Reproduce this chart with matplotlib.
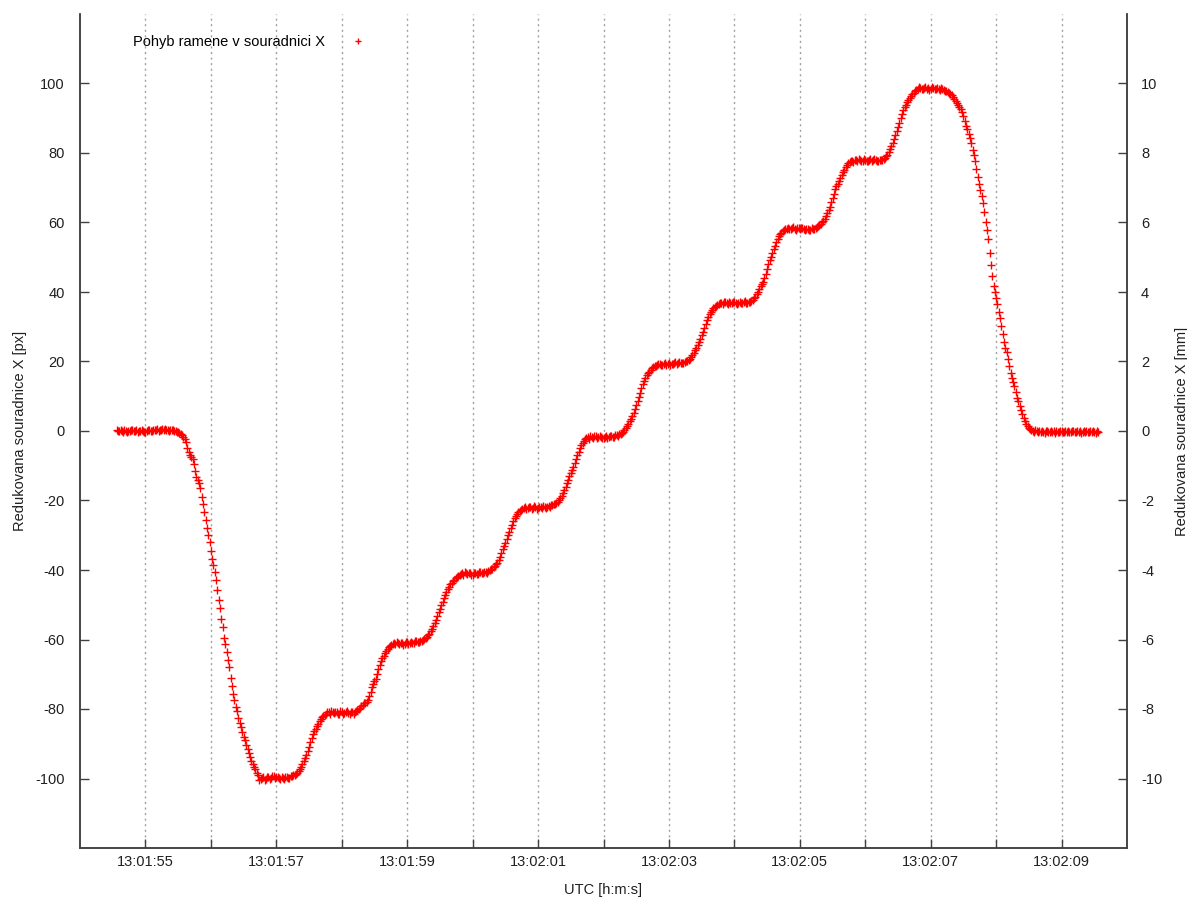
import numpy as np
import matplotlib.pyplot as plt
from matplotlib.ticker import FuncFormatter

plt.rcParams['font.family'] = ['Liberation Sans', 'DejaVu Sans']
plt.rcParams['font.size'] = 10.5
plt.rcParams['axes.unicode_minus'] = False

# first sample of the record (seconds since midnight, UTC) and sampling step [s]
t_first = 13 * 3600 + 1 * 60 + 54.56
dt = 0.02
px_per_mm = 10.0

# reduced X coordinate of the arm [px], one row = 0.5 s
x_px = [
    0.2, 0.0, -0.1, 0.3, 0.1, -0.2, 0.3, 0.1, -0.2, 0.0, 0.0, 0.2, 0.2, -0.1, 0.1, 0.3, -0.3, -0.1, 0.0, 0.2, 0.1, -0.2, -0.2, 0.1, 0.2,
    0.3, 0.0, 0.1, 0.2, 0.4, 0.3, 0.5, 0.1, 0.4, 0.2, 0.6, 0.3, 0.5, 0.2, 0.4, 0.1, 0.3, 0.2, 0.3, 0.0, 0.1, -0.2, -0.3, -0.5, -0.8,
    -1.2, -1.7, -2.4, -3.3, -4.8, -6.1, -7.0, -7.6, -8.2, -9.6, -11.5, -13.3, -14.2, -15.1, -16.5, -18.9, -21.0, -23.2, -25.5, -27.8, -30.0, -32.0, -34.5, -36.8, -38.5,
    -40.6, -43.0, -45.8, -48.5, -51.0, -54.0, -56.4, -59.5, -61.2, -63.5, -65.9, -68.0, -71.0, -73.5, -75.8, -77.5, -79.4, -80.5, -82.6, -84.0, -85.2, -86.5, -88.0, -89.0, -90.4,
    -91.5, -92.6, -93.8, -94.9, -95.8, -96.8, -97.4, -98.4, -99.0, -100.4, -100.2, -99.8, -99.6, -100.3, -100.1, -99.7, -99.5, -100.0, -99.8, -99.4, -99.4, -99.9, -99.7, -99.5, -99.9,
    -100.1, -99.6, -99.8, -100.0, -99.7, -99.5, -99.9, -99.8, -99.4, -99.3, -99.1, -99.0, -98.7, -98.4, -97.9, -97.4, -96.6, -95.8, -95.1, -94.2, -93.3, -92.2, -90.8, -89.5, -88.3,
    -87.3, -86.4, -85.8, -85.0, -84.3, -83.4, -83.0, -82.4, -82.1, -81.7, -81.5, -80.9, -81.0, -81.3, -80.6, -80.9, -81.2, -81.0, -80.8, -81.5, -81.3, -80.7, -80.9, -81.4, -81.1,
    -80.9, -80.7, -81.2, -81.4, -80.8, -81.0, -81.3, -80.8, -80.6, -80.4, -80.1, -79.6, -79.2, -78.8, -78.3, -78.2, -77.9, -77.3, -76.3, -75.0, -73.7, -72.8, -72.0, -71.3, -69.9,
    -68.5, -67.4, -66.3, -65.4, -64.8, -63.9, -63.3, -62.8, -62.2, -61.8, -61.5, -61.2, -61.0, -61.4, -60.8, -61.1, -61.3, -60.9, -61.0, -61.5, -61.2, -60.8, -60.7, -61.2, -61.1,
    -60.6, -60.9, -61.0, -60.5, -60.4, -60.8, -60.6, -60.3, -60.5, -60.1, -59.9, -59.6, -59.3, -58.8, -58.3, -57.6, -57.0, -56.2, -55.3, -54.5, -53.1, -52.0, -51.3, -50.2, -49.1,
    -48.2, -47.1, -46.2, -45.4, -44.8, -44.1, -43.7, -43.3, -42.9, -42.4, -42.0, -41.6, -41.5, -41.1, -41.0, -41.4, -40.7, -41.0, -41.2, -40.8, -40.9, -41.5, -41.3, -41.0, -40.8,
    -41.2, -41.1, -40.7, -40.6, -41.0, -40.9, -40.6, -40.5, -40.8, -40.2, -40.1, -39.8, -39.6, -39.2, -38.8, -38.3, -37.9, -37.2, -36.3, -35.2, -34.0, -33.0, -32.1, -31.0, -30.0,
    -29.0, -28.0, -27.0, -26.0, -25.0, -24.4, -23.8, -23.3, -22.9, -22.6, -22.4, -22.1, -22.0, -22.5, -22.3, -21.9, -21.8, -22.4, -22.2, -21.7, -21.9, -22.5, -22.3, -21.8, -22.0,
    -22.2, -21.7, -21.9, -22.1, -21.8, -21.6, -21.9, -21.4, -21.3, -21.0, -20.9, -20.6, -20.3, -19.9, -19.3, -18.6, -17.9, -17.0, -16.1, -15.0, -14.0, -13.0, -12.1, -11.2, -10.3,
    -9.3, -8.1, -7.0, -6.0, -5.0, -4.1, -3.4, -2.8, -2.4, -2.1, -1.8, -2.2, -1.5, -1.7, -1.9, -1.3, -1.4, -2.0, -1.8, -1.4, -1.6, -2.1, -2.0, -1.6, -1.5,
    -1.9, -1.7, -1.4, -1.3, -1.8, -1.6, -1.2, -1.2, -1.4, -1.0, -0.9, -0.6, -0.2, 0.3, 0.9, 1.5, 2.1, 2.8, 3.5, 4.2, 5.1, 6.2, 7.4, 8.5, 9.7,
    10.8, 12.3, 13.5, 14.5, 15.3, 16.0, 16.6, 17.1, 17.6, 18.0, 18.3, 18.6, 18.8, 18.9, 19.2, 19.4, 18.9, 19.0, 19.4, 19.5, 19.1, 19.3, 19.5, 19.0, 19.2,
    19.4, 19.6, 19.8, 19.3, 19.5, 19.8, 19.7, 19.5, 19.6, 19.9, 20.0, 20.2, 20.4, 20.8, 21.2, 21.8, 22.5, 23.2, 24.0, 24.8, 25.6, 26.6, 27.6, 28.6, 29.7,
    30.9, 32.0, 32.8, 33.6, 34.3, 34.8, 35.3, 35.7, 36.0, 36.4, 36.6, 36.8, 36.9, 36.6, 37.2, 37.0, 36.8, 36.5, 37.1, 36.9, 36.7, 37.2, 37.0, 36.8, 36.6,
    36.9, 37.1, 36.7, 36.8, 37.0, 37.3, 36.8, 36.9, 37.0, 37.2, 37.4, 37.8, 38.2, 38.7, 39.3, 40.0, 40.9, 41.6, 42.3, 43.0, 44.0, 45.2, 46.6, 48.0, 49.1,
    50.0, 51.2, 52.3, 53.3, 54.3, 55.2, 56.0, 56.6, 57.1, 57.5, 57.8, 58.0, 58.2, 58.5, 58.0, 58.1, 58.4, 58.6, 58.1, 57.9, 58.5, 58.3, 58.0, 58.4, 58.3,
    58.0, 57.8, 58.1, 58.2, 57.7, 57.9, 58.3, 58.1, 58.0, 58.4, 58.6, 58.9, 59.2, 59.6, 60.0, 60.4, 61.1, 61.9, 62.7, 63.5, 64.6, 65.8, 67.0, 68.3, 69.5,
    70.4, 71.2, 72.0, 72.8, 73.6, 74.4, 75.2, 75.9, 76.5, 77.0, 77.3, 77.6, 77.8, 77.5, 78.1, 78.0, 77.7, 78.3, 78.0, 77.8, 77.6, 78.2, 78.1, 77.7, 77.8,
    78.0, 78.2, 77.8, 77.9, 78.3, 78.0, 77.7, 77.6, 78.1, 77.9, 78.0, 78.3, 78.6, 79.0, 79.5, 80.2, 81.1, 82.0, 83.0, 84.0, 85.1, 86.3, 87.5, 88.6, 90.0,
    91.2, 92.3, 93.2, 93.9, 94.6, 95.2, 95.8, 96.4, 96.9, 97.4, 97.8, 98.2, 98.4, 98.9, 98.7, 98.3, 98.5, 98.8, 98.9, 98.4, 98.6, 98.2, 98.4, 98.9, 98.8,
    98.4, 98.5, 98.7, 98.3, 98.2, 98.6, 98.4, 98.1, 97.9, 97.8, 97.6, 97.3, 97.0, 96.6, 96.1, 95.6, 95.0, 94.3, 93.7, 93.2, 92.6, 91.8, 90.6, 89.2, 87.8,
    86.8, 85.6, 84.2, 82.8, 80.9, 79.5, 77.7, 75.5, 73.2, 71.0, 69.3, 67.6, 65.5, 62.9, 60.2, 57.8, 55.3, 51.2, 47.8, 44.6, 41.8, 39.9, 38.2, 36.5, 34.3,
    32.6, 30.3, 27.9, 25.5, 23.8, 22.6, 20.8, 18.6, 16.7, 15.3, 14.2, 13.0, 11.3, 9.6, 8.5, 7.3, 6.0, 4.8, 3.7, 2.8, 2.0, 1.4, 0.9, 0.5, 0.2,
    0.1, -0.3, 0.2, -0.1, -0.4, 0.0, -0.2, 0.1, -0.3, -0.5, -0.1, 0.0, -0.4, -0.2, 0.1, -0.3, -0.1, -0.5, 0.0, -0.2, -0.4, -0.1, 0.1, -0.3, -0.2,
    -0.1, -0.4, 0.0, -0.2, -0.3, 0.1, -0.1, -0.4, -0.2, 0.0, -0.3, -0.1, -0.5, -0.2, 0.1, -0.3, 0.0, -0.2, -0.4, -0.1, -0.3, 0.0, -0.2, -0.5, -0.1,
    -0.3,
]

t = t_first + dt * np.arange(len(x_px))

t_axis_start = 13 * 3600 + 1 * 60 + 54
px_ticks = np.arange(-100, 101, 20)
mm_ticks = np.arange(-10, 11, 2)
px_range = (-120, 120)


def hms(sec, pos=None):
    s = int(round(sec))
    if s % 2 == 0:
        return ''
    return '%02d:%02d:%02d' % (s // 3600, (s // 60) % 60, s % 60)


axis_color = '#404040'
text_color = '#202020'

fig = plt.figure(figsize=(11.87, 9.0), dpi=100)
ax = fig.add_axes([80 / 1187, 1 - 848 / 900, 1047 / 1187, 834 / 900])

ax.plot(t, x_px, linestyle='none', marker='+', color='red',
        markersize=5.5, markeredgewidth=1.0, label='Pohyb ramene v souradnici X')

ax.set_xlim(t_axis_start, t_axis_start + 16)
ax.set_ylim(*px_range)
ax.set_xticks(np.arange(t_axis_start + 1, t_axis_start + 16, 1))
ax.xaxis.set_major_formatter(FuncFormatter(hms))
ax.set_yticks(px_ticks)

ax.grid(axis='x', color='#a0a0a0', linestyle=(0, (1.5, 2.5)), linewidth=1.0)
ax.set_axisbelow(True)

ax2 = ax.twinx()
ax2.set_ylim(px_range[0] / px_per_mm, px_range[1] / px_per_mm)
ax2.set_yticks(mm_ticks)

for a in (ax, ax2):
    a.spines['top'].set_visible(False)
    for side in ('left', 'right', 'bottom'):
        a.spines[side].set_color(axis_color)
        a.spines[side].set_linewidth(1.1)
    a.tick_params(direction='in', length=6.5, width=1.0, color=axis_color,
                  labelcolor=text_color, pad=10)

ax.tick_params(axis='y', right=False, pad=11)
ax.tick_params(axis='x', top=False, pad=5)
ax2.tick_params(axis='y', left=False, pad=10)

ax.set_xlabel('UTC [h:m:s]', color=text_color, labelpad=10)
ax.set_ylabel('Redukovana souradnice X [px]', color=text_color, labelpad=6)
ax2.set_ylabel('Redukovana souradnice X [mm]', color=text_color, labelpad=9)

ax.legend(loc='center left', bbox_to_anchor=(53 / 1047, 1 - 28 / 834),
          frameon=False, markerfirst=False, borderpad=0, borderaxespad=0,
          handlelength=1.5, handletextpad=1.5, markerscale=0.8)

fig.savefig('out.png', dpi=100)
